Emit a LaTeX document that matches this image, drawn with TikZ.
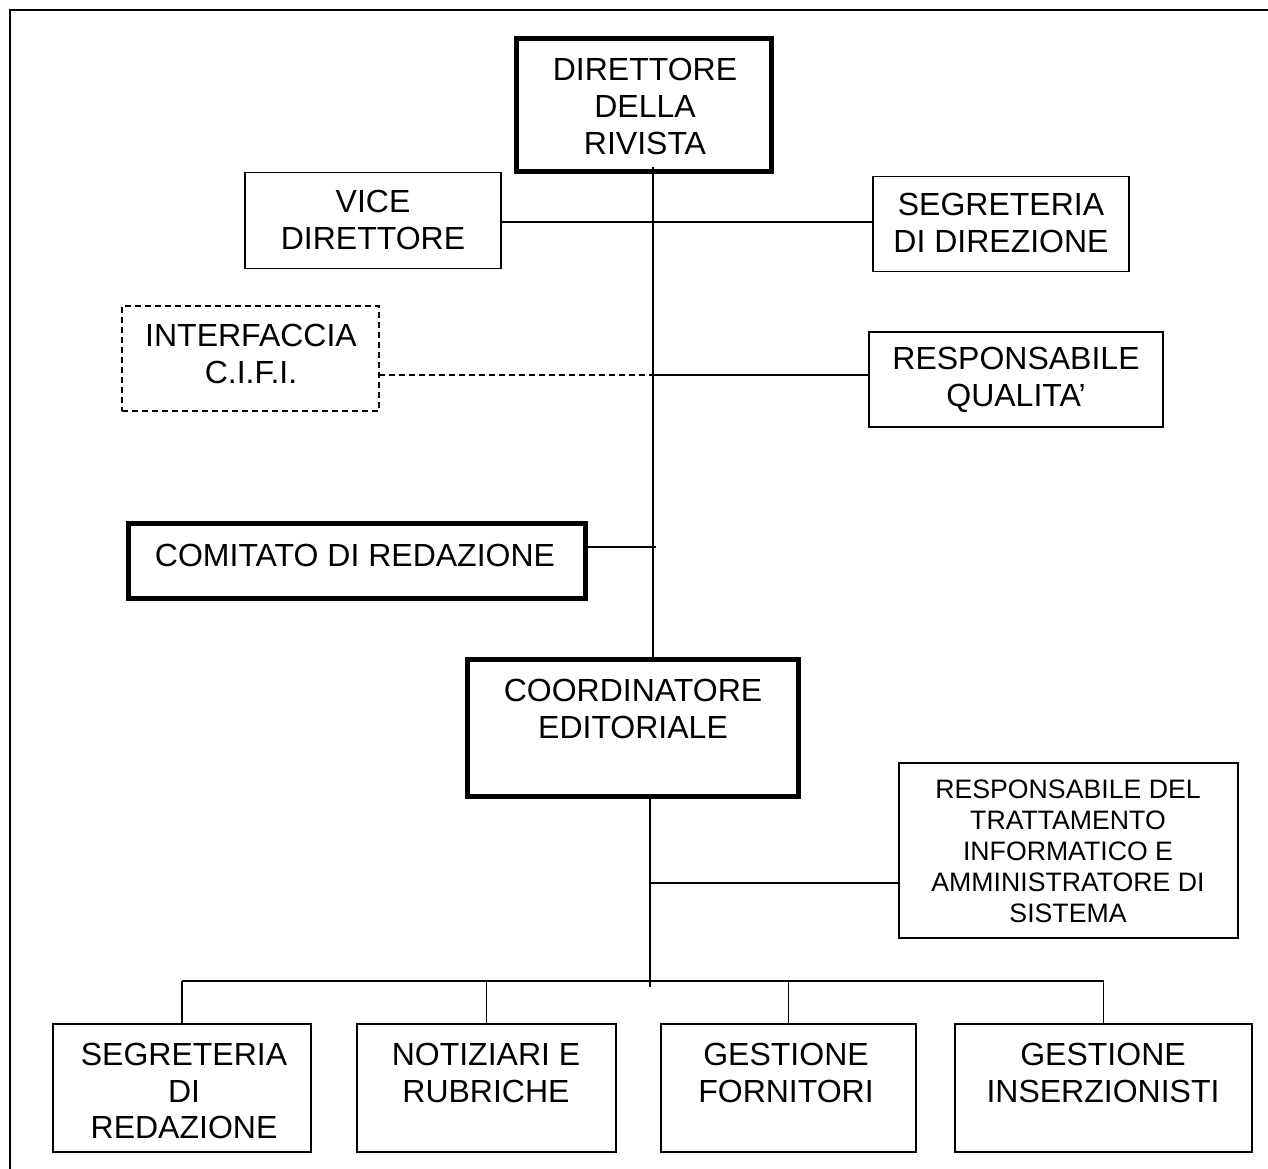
\documentclass[tikz,border=0pt]{standalone}
\usepackage{fontspec}
\setmainfont{Liberation Sans}
\usetikzlibrary{calc}
\newcommand\fbig{\fontsize{24}{27.4}\selectfont}
\newcommand\fsmall{\fontsize{20}{23.25}\selectfont}
\tikzset{
  thinbox/.style={draw, line width=1.1pt, rectangle, inner sep=0pt, outer sep=0pt},
  thickbox/.style={draw, line width=3.75pt, rectangle, inner sep=0pt, outer sep=0pt},
  dashbox/.style={draw, line width=1.1pt, rectangle, inner sep=0pt, outer sep=0pt, dash pattern=on 4.5pt off 3pt},
  txt/.style={inner sep=0pt, align=center, font=\fbig},
  stxt/.style={inner sep=0pt, align=center, font=\fsmall},
  conn/.style={line width=1.1pt},
  dconn/.style={line width=1.1pt, dash pattern=on 4.5pt off 3pt},
}
\begin{document}
\begin{tikzpicture}[x=0.75pt, y=-0.75pt]
\useasboundingbox (0,0) rectangle (1268,1169);
\clip (0,0) rectangle (1268,1169);
\draw[line width=1.9pt] (10,1200) -- (10,10) -- (1300,10);

% boxes
\node[thickbox, minimum width=255*0.75pt, minimum height=133*0.75pt] (dir) at (644,105) {};
\node[thinbox, minimum width=256*0.75pt, minimum height=96*0.75pt] (vice) at (373,220.5) {};
\node[thinbox, minimum width=256*0.75pt, minimum height=95*0.75pt] (segdir) at (1001,224) {};
\node[dashbox, minimum width=257*0.75pt, minimum height=105*0.75pt] (cifi) at (250.5,358.5) {};
\node[thinbox, minimum width=294*0.75pt, minimum height=95*0.75pt] (respq) at (1016,379.5) {};
\node[thickbox, minimum width=457*0.75pt, minimum height=74*0.75pt] (comit) at (356.5,561) {};
\node[thickbox, minimum width=331*0.75pt, minimum height=137*0.75pt] (coord) at (633,728) {};
\node[thinbox, minimum width=339*0.75pt, minimum height=175*0.75pt] (respdel) at (1068.5,850.5) {};
\node[thinbox, minimum width=258*0.75pt, minimum height=128*0.75pt] (b1) at (182,1088) {};
\node[thinbox, minimum width=259*0.75pt, minimum height=128*0.75pt] (b2) at (486.5,1088) {};
\node[thinbox, minimum width=255*0.75pt, minimum height=128*0.75pt] (b3) at (788.5,1088) {};
\node[thinbox, minimum width=297*0.75pt, minimum height=128*0.75pt] (b4) at (1103.5,1088) {};

% texts
\node[txt] (tdir) at (645,106.5) {DIRETTORE\\DELLA\\RIVISTA};
\node[txt] (tvice) at (373,220) {VICE\\DIRETTORE};
\node[txt] (tsegdir) at (1001,223) {SEGRETERIA\\DI DIREZIONE};
\node[txt] (tcifi) at (251,354) {INTERFACCIA\\C.I.F.I.};
\node[txt] (trespq) at (1016,380) {RESPONSABILE\\QUALITA’};
\node[txt] (tcomit) at (355,555) {COMITATO DI REDAZIONE};
\node[txt] (tcoord) at (633,709) {COORDINATORE\\EDITORIALE};
\node[stxt] (trespdel) at (1068,851) {RESPONSABILE DEL\\TRATTAMENTO\\INFORMATICO E\\AMMINISTRATORE DI\\SISTEMA};
\node[txt] (tb1) at (184,1091) {SEGRETERIA\\DI\\REDAZIONE};
\node[txt] (tb2) at (486,1073) {NOTIZIARI E\\RUBRICHE};
\node[txt] (tb3) at (786,1073) {GESTIONE\\FORNITORI};
\node[txt] (tb4) at (1103,1073) {GESTIONE\\INSERZIONISTI};

% connectors
\coordinate (sp) at (653,167);
\draw[conn] (sp) -- (sp |- coord.north);
\coordinate (j1) at (653,222);
\draw[conn] (vice.east |- j1) -- (j1) -- (j1 -| segdir.west);
\coordinate (j2) at (653,375);
\draw[dconn] (cifi.east |- j2) -- (j2);
\draw[conn] (j2) -- (j2 -| respq.west);
\coordinate (j3) at (656,547);
\draw[conn] (comit.east |- j3) -- (j3);
\coordinate (sp2) at (650,987);
\draw[conn] (sp2 |- coord.south) -- (sp2);
\coordinate (j4) at (650,883);
\draw[conn] (j4) -- (j4 -| respdel.west);
\coordinate (bus) at (0,981);
\draw[conn] (bus -| b1.north) -- (bus -| b4.north);
\foreach \b in {b1,b2,b3,b4} {\draw[conn] (bus -| \b.north) -- (\b.north);}
\end{tikzpicture}
\end{document}
